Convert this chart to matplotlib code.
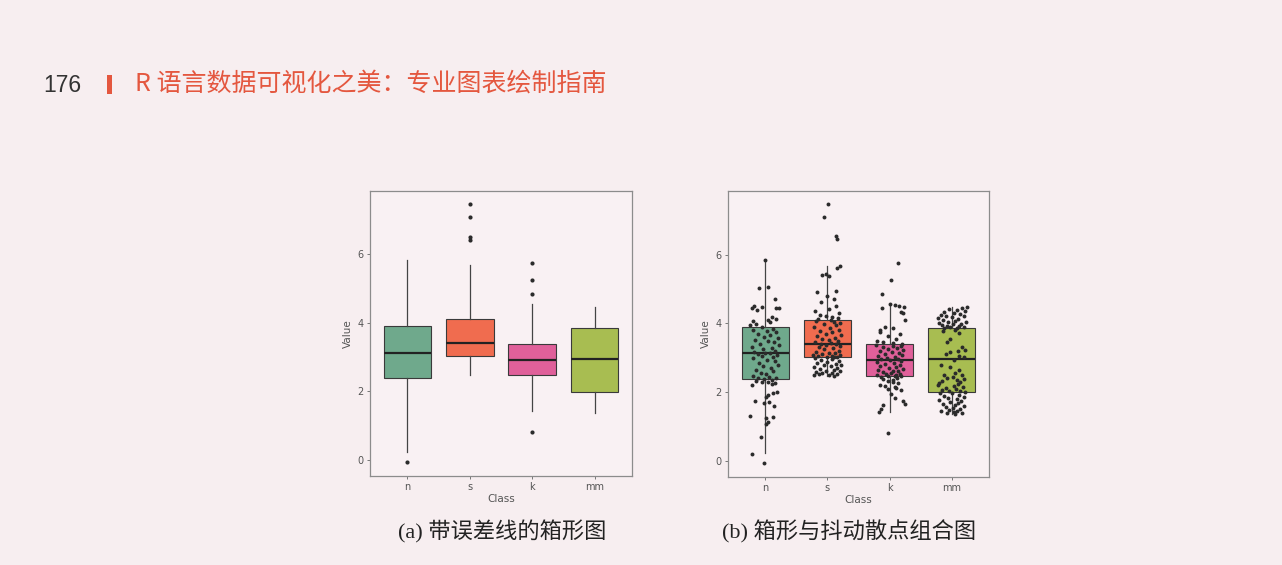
import matplotlib
matplotlib.use("Agg")
import matplotlib.pyplot as plt
from matplotlib.patches import Rectangle
import numpy as np

# categories and colours
classes = ["n", "s", "k", "mm"]
box_colors = ["#6fa98c", "#f06c4f", "#e0609a", "#a8bd51"]

# box statistics
whislo = [0.22, 2.48, 1.42, 1.37]
q1 = [2.39, 3.02, 2.47, 1.99]
med = [3.13, 3.41, 2.92, 2.96]
q3 = [3.90, 4.10, 3.39, 3.86]
whishi = [5.83, 5.68, 4.55, 4.47]
fliers = [[-0.07], [6.42, 6.52, 7.09, 7.46], [0.81, 4.84, 5.26, 5.75], []]

# jittered points of panel (b): value and horizontal offset
n_y = [5.83, 5.07, 5.02, 4.72, 4.50, 4.48, 4.46, 4.45, 4.44, 4.40, 4.18, 4.12, 4.10, 4.08, 4.03, 3.98, 3.95,
       3.88, 3.85, 3.82, 3.78, 3.75, 3.70, 3.65, 3.60, 3.56, 3.52, 3.48, 3.45, 3.40, 3.36, 3.32, 3.28, 3.25, 3.21,
       3.18, 3.15, 3.13, 3.11, 3.08, 3.05, 3.02, 2.98, 2.94, 2.90, 2.86, 2.80, 2.75, 2.70, 2.65, 2.60, 2.56, 2.52,
       2.48, 2.45, 2.42, 2.40, 2.38, 2.36,
       2.33, 2.30, 2.28, 2.26, 2.24, 2.22, 1.99, 1.96, 1.93, 1.85, 1.75, 1.71, 1.67, 1.61, 1.30, 1.27, 1.24, 1.14,
       1.08, 0.68, 0.20, -0.07]
n_dx = [0.00, 0.05, -0.10, 0.15, -0.18, -0.05, 0.18, -0.22, 0.22, -0.14, 0.10, 0.18, 0.05, -0.20, 0.08, -0.15, -0.24,
        -0.05, 0.12, -0.20, 0.02, 0.18, -0.12, 0.08, -0.02, 0.20, -0.16, 0.05, 0.14, -0.08, 0.22, -0.22, 0.10, -0.04,
        0.16, -0.18, 0.00, 0.07, -0.11, 0.19, -0.06, 0.12, -0.19, 0.03, 0.15, -0.10, 0.21, -0.03, 0.09, -0.15, 0.13,
        -0.07, 0.01, -0.20, 0.06, 0.17, -0.12, -0.02, 0.11,
        -0.15, 0.05, -0.05, 0.15, 0.10, -0.22, 0.19, 0.12, 0.05, 0.01, -0.16, 0.06, -0.02, 0.14, -0.24, 0.12, 0.01,
        0.05, 0.01, -0.07, -0.22, -0.02]

s_y = [7.46, 7.09, 6.54, 6.44, 5.68, 5.60, 5.45, 5.42, 5.38, 4.95, 4.90, 4.80, 4.70, 4.62, 4.50, 4.42, 4.35, 4.30,
       4.25, 4.22, 4.18, 4.15, 4.13, 4.11,
       4.08, 4.05, 4.02, 3.98, 3.95, 3.90, 3.86, 3.82, 3.78, 3.74, 3.70, 3.66, 3.62, 3.58, 3.55, 3.52, 3.48, 3.45,
       3.43, 3.41, 3.39, 3.36, 3.33, 3.30, 3.27, 3.24, 3.21, 3.18, 3.15, 3.13, 3.11, 3.09, 3.07, 3.05, 3.04, 3.03,
       3.02, 3.01,
       2.98, 2.95, 2.92, 2.90, 2.87, 2.85, 2.82, 2.80, 2.78, 2.75, 2.73, 2.70, 2.68, 2.65, 2.62, 2.60, 2.58, 2.56,
       2.55, 2.53, 2.52, 2.50, 2.49, 2.48]
s_dx = [0.01, -0.06, 0.13, 0.15, 0.21, 0.15, -0.02, -0.09, 0.03, 0.13, -0.17, 0.00, 0.10, -0.10, 0.14, 0.02, -0.20,
        0.19, -0.12, -0.03, 0.08, 0.17, -0.15, 0.05,
        -0.18, 0.10, 0.20, -0.05, 0.14, -0.22, 0.04, 0.18, -0.12, 0.08, -0.02, 0.22, -0.16, 0.12, -0.08, 0.02, 0.17,
        -0.20, 0.06, -0.11, 0.14, -0.03, 0.21, -0.14, 0.09, -0.06, 0.18, -0.19, 0.03, 0.12, -0.09, 0.20, -0.23, 0.07,
        -0.15, 0.15, -0.01, 0.10,
        -0.20, 0.08, -0.10, 0.18, 0.00, -0.16, 0.13, 0.22, -0.06, 0.05, -0.22, 0.16, -0.12, 0.10, -0.02, 0.20, -0.18,
        0.07, -0.08, 0.15, -0.14, 0.03, -0.21, 0.11]

k_y = [5.75, 5.26, 4.84, 4.55, 4.53, 4.51, 4.48, 4.45, 4.32, 4.30, 4.11, 3.90, 3.87, 3.80, 3.75, 3.70, 3.62, 3.55,
       3.50, 3.47, 3.44, 3.41,
       3.38, 3.35, 3.33, 3.30, 3.27, 3.24, 3.22, 3.19, 3.16, 3.13, 3.10, 3.08, 3.05, 3.02, 3.00, 2.97, 2.95, 2.93,
       2.91, 2.89, 2.86, 2.83, 2.80, 2.77, 2.74, 2.71, 2.68, 2.65, 2.62, 2.60, 2.58, 2.56, 2.54, 2.52, 2.50, 2.49,
       2.48, 2.47, 2.46, 2.45,
       2.42, 2.38, 2.35, 2.31, 2.29, 2.26, 2.22, 2.19, 2.15, 2.11, 2.10, 2.05, 1.95, 1.82, 1.75, 1.66, 1.63, 1.51,
       1.43, 0.81]
k_dx = [0.14, 0.02, -0.12, 0.01, 0.08, 0.15, 0.24, -0.12, 0.18, 0.22, 0.25, -0.08, 0.06, -0.16, -0.15, 0.17, -0.02,
        0.10, -0.20, -0.10, 0.05, 0.20,
        -0.22, 0.06, 0.18, -0.10, 0.12, -0.02, 0.22, -0.16, 0.04, 0.15, -0.08, 0.20, -0.19, 0.09, -0.04, 0.13, -0.13,
        0.01, 0.19, -0.21, 0.07, -0.07, 0.16, -0.15, 0.10, -0.01, 0.21, -0.18, 0.05, 0.14, -0.11, 0.02, 0.17, -0.06,
        0.11, -0.20, 0.08, -0.03, 0.19, -0.14,
        0.12, -0.10, 0.05, -0.02, 0.06, 0.14, -0.15, -0.08, 0.09, 0.11, -0.03, 0.18, 0.03, 0.08, 0.21, 0.25, -0.10,
        -0.14, -0.17, -0.03]

mm_y = [4.47, 4.45, 4.42, 4.39, 4.36, 4.33, 4.30, 4.28, 4.25, 4.22, 4.20, 4.18, 4.15, 4.12, 4.10, 4.08, 4.05, 4.03,
        4.01, 3.99, 3.97, 3.95, 3.93, 3.91, 3.90, 3.88, 3.87, 3.86,
        3.82, 3.78, 3.72, 3.55, 3.46, 3.30, 3.22, 3.20, 3.17, 3.12, 3.05, 3.02,
        2.92, 2.80, 2.73, 2.63, 2.55, 2.49, 2.49, 2.45, 2.42, 2.38, 2.34, 2.32, 2.30, 2.27,
        2.24, 2.21, 2.18, 2.15, 2.12, 2.10, 2.07, 2.04, 2.02, 2.00, 1.98, 1.96, 1.93, 1.90, 1.87, 1.84, 1.81, 1.78,
        1.75, 1.72, 1.69, 1.66, 1.63, 1.60, 1.57, 1.54, 1.51, 1.48, 1.46, 1.44, 1.42, 1.40, 1.38, 1.37]
mm_dx = [0.25, 0.16, -0.05, 0.08, 0.22, -0.12, 0.04, 0.13, -0.18, -0.10, 0.19, 0.01, -0.22, 0.10, -0.14, 0.06, 0.23,
         -0.06, -0.20, 0.15, 0.02, -0.16, 0.11, -0.08, 0.20, -0.03, 0.08, -0.12,
         0.05, -0.14, 0.12, -0.02, -0.08, 0.17, 0.22, 0.10, -0.03, -0.09, 0.11, 0.20,
         0.04, -0.18, -0.03, 0.12, 0.06, -0.12, 0.17, 0.02, -0.07, 0.20, 0.09, -0.15, 0.14, -0.20,
         0.10, -0.22, 0.03, 0.18, -0.10, 0.07, -0.16, 0.14, -0.04, 0.22, -0.19, 0.01, 0.12, -0.12, 0.19, -0.06, 0.08,
         -0.20, 0.15, -0.02, 0.10, -0.14, 0.05, 0.20, -0.09, 0.02, 0.13, -0.05, 0.09, -0.17, 0.04, 0.16, -0.08, 0.06]

jit_y = [n_y, s_y, k_y, mm_y]
jit_dx = [n_dx, s_dx, k_dx, mm_dx]

yticks = [0, 2, 4, 6]
page_bg = "#f7eef0"

W, H = 1282, 565
fig = plt.figure(figsize=(W / 100, H / 100), dpi=100)
fig.patch.set_facecolor(page_bg)


def px_axes(x0, y0, x1, y1):
    return fig.add_axes([x0 / W, 1 - y1 / H, (x1 - x0) / W, (y1 - y0) / H])


def style_axes(ax):
    ax.set_facecolor("#f9f1f3")
    for sp in ax.spines.values():
        sp.set_color("#8c8c8c")
        sp.set_linewidth(0.9)
    ax.set_xlim(0.4, 4.6)
    ax.set_ylim(-0.47, 7.85)
    ax.set_xticks(range(1, 5))
    ax.set_xticklabels(classes)
    ax.set_yticks(yticks)
    ax.tick_params(length=2.5, width=0.7, color="#777777", labelsize=7,
                   labelcolor="#555555", pad=2)
    ax.set_xlabel("Class", fontsize=7.5, color="#555555", labelpad=1)
    ax.set_ylabel("Value", fontsize=7.5, color="#555555", labelpad=3)


def draw_boxes(ax, show_fliers):
    stats = []
    for i in range(4):
        stats.append(dict(whislo=whislo[i], q1=q1[i], med=med[i], q3=q3[i],
                          whishi=whishi[i], fliers=fliers[i] if show_fliers else []))
    bp = ax.bxp(stats, positions=range(1, 5), widths=0.76, patch_artist=True,
                showcaps=False, showfliers=show_fliers, manage_ticks=False,
                boxprops=dict(edgecolor="#3a3a3a", linewidth=0.8),
                whiskerprops=dict(color="#444444", linewidth=0.9),
                medianprops=dict(color="#222222", linewidth=1.6),
                flierprops=dict(marker="o", markersize=3, markerfacecolor="#2b2b2b",
                                markeredgecolor="none"))
    for patch, c in zip(bp["boxes"], box_colors):
        patch.set_facecolor(c)


# panel (a)
ax1 = px_axes(370, 191, 632, 476)
draw_boxes(ax1, True)
style_axes(ax1)

# panel (b)
ax2 = px_axes(728, 191, 989, 477)
draw_boxes(ax2, False)
for i in range(4):
    xs = np.array(jit_dx[i]) + (i + 1)
    ax2.scatter(xs, jit_y[i], s=8, color="#2b2b2b", linewidths=0, zorder=3)
style_axes(ax2)

# page header
fig.text(43 / W, 1 - 85 / H, "176", fontsize=16.5, color="#333333",
         family=["Liberation Sans", "DejaVu Sans"], va="center")
fig.add_artist(Rectangle((107 / W, 1 - 94 / H), 4.5 / W, 19 / H,
                         transform=fig.transFigure, color="#e4573f", lw=0))
fig.text(135 / W, 1 - 84 / H, "R 语言数据可视化之美：专业图表绘制指南", fontsize=18,
         color="#e4573f", family=["Noto Sans CJK SC", "DejaVu Sans"], va="center")

# captions
cap_font = ["Liberation Serif", "Noto Sans CJK SC"]
fig.text(398 / W, 1 - 532 / H, "(a) 带误差线的箱形图", fontsize=16, color="#222222",
         family=cap_font, va="center")
fig.text(722 / W, 1 - 532 / H, "(b) 箱形与抖动散点组合图", fontsize=16, color="#222222",
         family=cap_font, va="center")

fig.savefig("out.png", dpi=100, facecolor=page_bg)
